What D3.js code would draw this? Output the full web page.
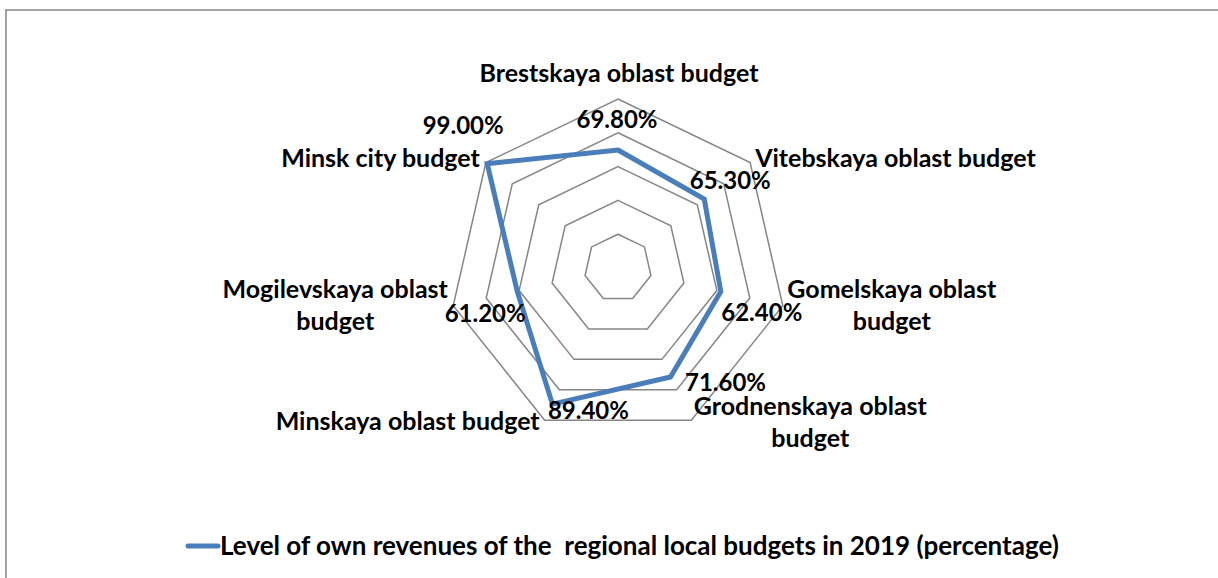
<!DOCTYPE html>
<html>
<head>
<meta charset="utf-8">
<script src="https://cdn.jsdelivr.net/npm/d3@7"></script>
<style>
  body { margin: 0; background: #fff; }
  text { font-family: Lato, "Open Sans", sans-serif; font-weight: bold; fill: #000; }
</style>
</head>
<body>
<script>
// данные
const categories = ['Brestskaya oblast budget', 'Vitebskaya oblast budget', 'Gomelskaya oblast budget',
    'Grodnenskaya oblast budget', 'Minskaya oblast budget', 'Mogilevskaya oblast budget', 'Minsk city budget']
const values = [69.8, 65.3, 62.4, 71.6, 89.4, 61.2, 99.0]
const gridTicks = [20, 40, 60, 80, 100]
const seriesName = 'Level of own revenues of the  regional local budgets in 2019 (percentage)'

const width = 1218, height = 578
const cx = 618, cy = 268, radius = 169
const fontSize = 25

// подписи категорий: строки и смещения от внешней вершины
const catLayout = [
    {lines: ['Brestskaya oblast budget'], anchor: 'middle', dx: 1, dy: -17},
    {lines: ['Vitebskaya oblast budget'], anchor: 'start', dx: 5, dy: 4},
    {lines: ['Gomelskaya oblast', 'budget'], anchor: 'middle', dx: 109, dy: -8},
    {lines: ['Grodnenskaya oblast', 'budget'], anchor: 'middle', dx: 119, dy: -5},
    {lines: ['Minskaya oblast budget'], anchor: 'end', dx: -5, dy: 10},
    {lines: ['Mogilevskaya oblast', 'budget'], anchor: 'middle', dx: -118, dy: -8},
    {lines: ['Minsk city budget'], anchor: 'end', dx: -6, dy: 4}
]
// подписи значений: смещения от точки ряда
const valLayout = [
    {dx: -1, dy: -22}, {dx: 26, dy: -10}, {dx: 41, dy: 30}, {dx: 55, dy: 14},
    {dx: 36, dy: 15}, {dx: -32, dy: 31}, {dx: -24, dy: -30}
]

const svg = d3.select('body').append('svg').attr('width', width).attr('height', height)

// рамка
svg.append('rect').attr('x', 6).attr('y', 10).attr('width', width).attr('height', height)
    .attr('fill', 'none').attr('stroke', '#868686').attr('stroke-width', 1.5)

const r = d3.scaleLinear().domain([0, 100]).range([0, radius])
const angle = d3.scaleLinear().domain([0, categories.length]).range([0, 2 * Math.PI])

const pos = (i, v) => [cx + r(v) * Math.sin(angle(i)), cy - r(v) * Math.cos(angle(i))]

const g = svg.append('g').attr('transform', `translate(${cx},${cy})`)

// сетка
const ring = d3.lineRadial().angle((d, i) => angle(i)).radius(d => r(d)).curve(d3.curveLinearClosed)
g.selectAll('path.grid').data(gridTicks).enter().append('path')
    .attr('class', 'grid')
    .attr('d', t => ring(categories.map(() => t)))
    .attr('fill', 'none').attr('stroke', '#868686').attr('stroke-width', 1.5)

// ряд
g.append('path')
    .attr('d', ring(values))
    .attr('fill', 'none').attr('stroke', '#4a7ebb').attr('stroke-width', 5)
    .attr('stroke-linejoin', 'miter')

// подписи значений
svg.selectAll('text.val').data(values).enter().append('text')
    .attr('class', 'val')
    .attr('x', (d, i) => pos(i, d)[0] + valLayout[i].dx)
    .attr('y', (d, i) => pos(i, d)[1] + valLayout[i].dy)
    .attr('text-anchor', 'middle').style('font-size', '24px')
    .text(d => d.toFixed(2) + '%')

// подписи категорий
const cats = svg.selectAll('text.cat').data(categories).enter().append('text')
    .attr('class', 'cat')
    .attr('text-anchor', (d, i) => catLayout[i].anchor)
    .style('font-size', fontSize + 'px')
cats.each(function (d, i) {
    const [x, y] = pos(i, 100)
    const l = catLayout[i]
    d3.select(this).selectAll('tspan').data(l.lines).enter().append('tspan')
        .attr('x', x + l.dx)
        .attr('y', (s, j) => y + l.dy + j * 32)
        .text(s => s)
})

// легенда
const legend = svg.append('g').attr('transform', 'translate(186,546)')
legend.append('line').attr('x1', 2).attr('x2', 32).attr('y1', 0).attr('y2', 0)
    .attr('stroke', '#4a7ebb').attr('stroke-width', 5).attr('stroke-linecap', 'round')
legend.append('text').attr('x', 34).attr('y', 9).style('font-size', '26px')
    .style('white-space', 'pre').text(seriesName)
</script>
</body>
</html>
